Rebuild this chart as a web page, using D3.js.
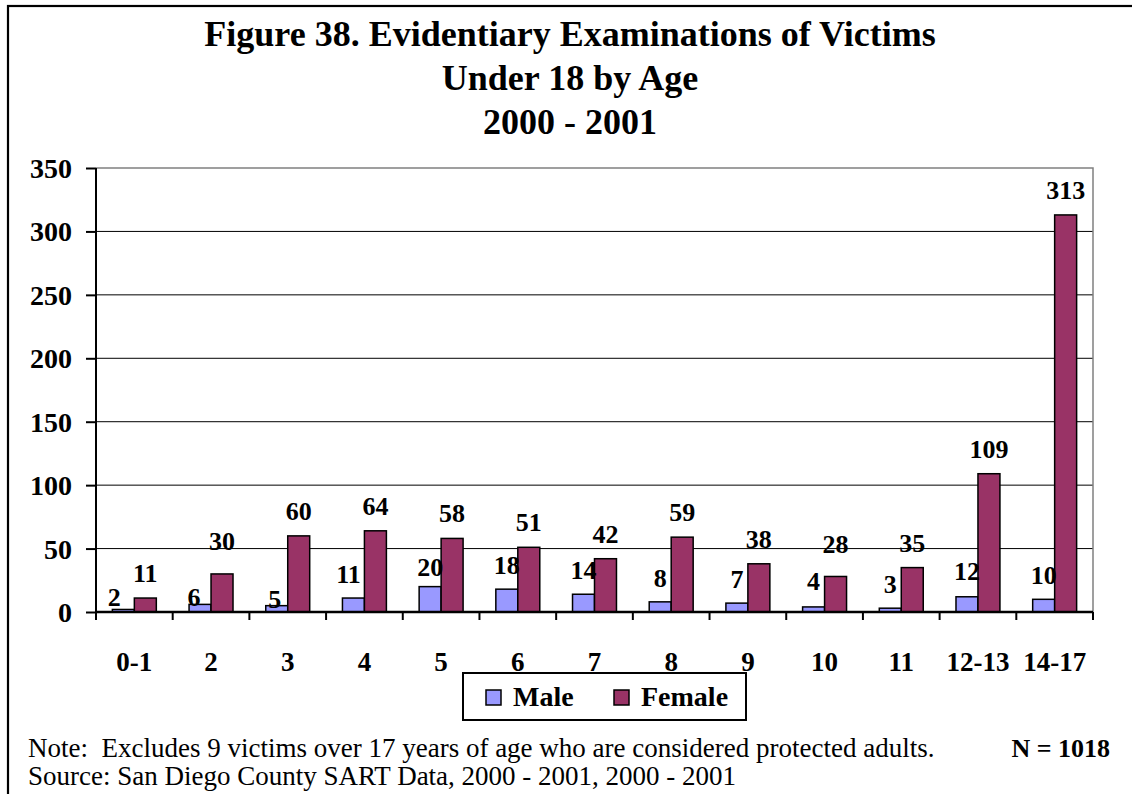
<!DOCTYPE html>
<html>
<head>
<meta charset="utf-8">
<script src="https://cdn.jsdelivr.net/npm/d3@7/dist/d3.min.js"></script>
<style>
  html, body { margin: 0; padding: 0; background: #fff; }
  svg { display: block; font-family: "Liberation Serif", "Times New Roman", serif; }
  .pre { white-space: pre; }
</style>
</head>
<body>
<svg id="chart" width="1132" height="794"></svg>
<script>
// ---- data ----
const categories = ["0-1", "2", "3", "4", "5", "6", "7", "8", "9", "10", "11", "12-13", "14-17"];
const seriesNames = ["Male", "Female"];
const maleValues = [2, 6, 5, 11, 20, 18, 14, 8, 7, 4, 3, 12, 10];
const femaleValues = [11, 30, 60, 64, 58, 51, 42, 59, 38, 28, 35, 109, 313];
const yTickValues = [0, 50, 100, 150, 200, 250, 300, 350];
const titleLines = ["Figure 38. Evidentiary Examinations of Victims", "Under 18 by Age", "2000 - 2001"];
const noteText = "Note:  Excludes 9 victims over 17 years of age who are considered protected adults.";
const nText = "N = 1018";
const sourceText = "Source: San Diego County SART Data, 2000 - 2001, 2000 - 2001";

// label nudges (pixels) to mimic the original label placement
const maleLabelDx = [-9, -6, -2, -5, 0, 0, 0, 0, 0, 0, 0, 0, 0];
const maleLabelDy = [12, 17, 17, 0, 4, 0, 0, 0, 0, -2, 0, -2, 0];
const femaleLabelDy = [0, -8, 0, 0, 0, 0, 0, 0, 0, -7, 0, 0, 0];

const colors = { Male: "#9999FF", Female: "#993366" };

// ---- layout ----
const svg = d3.select("#chart");
const plot = { left: 96, right: 1093, top: 168, bottom: 612 };

// outer frame
svg.append("rect").attr("x", 8).attr("y", 6).attr("width", 1140).attr("height", 820)
  .attr("fill", "none").attr("stroke", "#000").attr("stroke-width", 2.2);

// title
svg.append("g").selectAll("text").data(titleLines).join("text")
  .attr("x", 570).attr("y", (d, i) => 46 + i * 44)
  .attr("text-anchor", "middle").attr("font-weight", "bold").attr("font-size", 36)
  .text(d => d);

const x = d3.scaleBand().domain(categories).range([plot.left, plot.right]).paddingInner(0).paddingOuter(0);
const xs = d3.scaleBand().domain(seriesNames).range([0, x.bandwidth()]).paddingInner(0).paddingOuter(0.745);
const y = d3.scaleLinear().domain([0, 350]).range([plot.bottom, plot.top]);

// gridlines
svg.append("g").selectAll("line").data(yTickValues.filter(v => v > 0 && v < 350)).join("line")
  .attr("x1", plot.left).attr("x2", plot.right)
  .attr("y1", d => y(d)).attr("y2", d => y(d))
  .attr("stroke", "#000").attr("stroke-width", 1);

// plot area border (top & right, grey)
svg.append("path")
  .attr("d", `M${plot.left},${y(350)}H${plot.right}V${plot.bottom}`)
  .attr("fill", "none").attr("stroke", "#808080").attr("stroke-width", 1.5);

// bars
const data = categories.map((c, i) => ({ cat: c, i, Male: maleValues[i], Female: femaleValues[i] }));
const groups = svg.append("g").selectAll("g").data(data).join("g")
  .attr("transform", d => `translate(${x(d.cat)},0)`);
groups.selectAll("rect").data(d => seriesNames.map(s => ({ s, v: d[s] }))).join("rect")
  .attr("x", d => xs(d.s)).attr("width", xs.bandwidth())
  .attr("y", d => y(d.v)).attr("height", d => y(0) - y(d.v))
  .attr("fill", d => colors[d.s]).attr("stroke", "#000").attr("stroke-width", 1.5);

// data labels
const lab = svg.append("g").attr("font-weight", "bold").attr("font-size", 26).attr("text-anchor", "middle");
lab.selectAll("text.m").data(data).join("text").attr("class", "m")
  .attr("x", d => x(d.cat) + xs("Male") + xs.bandwidth() / 2 + maleLabelDx[d.i])
  .attr("y", d => y(d.Male) - 15 + maleLabelDy[d.i])
  .text(d => d.Male);
lab.selectAll("text.f").data(data).join("text").attr("class", "f")
  .attr("x", d => x(d.cat) + xs("Female") + xs.bandwidth() / 2)
  .attr("y", d => y(d.Female) - 16 + femaleLabelDy[d.i])
  .text(d => d.Female);

// y axis
const yAxis = svg.append("g").attr("transform", `translate(${plot.left},0)`)
  .call(d3.axisLeft(y).tickValues(yTickValues).tickSize(10).tickPadding(14).tickFormat(d3.format("d")));
yAxis.select(".domain").remove();
yAxis.selectAll(".tick line").attr("stroke", "#000").attr("stroke-width", 2);
yAxis.selectAll(".tick text").attr("font-size", 28).attr("font-weight", "bold")
  .attr("font-family", "Liberation Serif, Times New Roman, serif").attr("fill", "#000").attr("dy", "0.34em");
svg.append("line").attr("x1", plot.left).attr("x2", plot.left)
  .attr("y1", plot.top).attr("y2", plot.bottom + 8).attr("stroke", "#000").attr("stroke-width", 2);

// x axis
const xAxis = svg.append("g").attr("transform", `translate(0,${plot.bottom})`)
  .call(d3.axisBottom(x).tickSize(0).tickPadding(40));
xAxis.select(".domain").attr("stroke", "#000").attr("stroke-width", 2.5).attr("d", `M${plot.left},0H${plot.right}`);
xAxis.selectAll(".tick text").attr("font-size", 27).attr("font-weight", "bold")
  .attr("font-family", "Liberation Serif, Times New Roman, serif").attr("fill", "#000");
// boundary ticks
const bounds = categories.map(c => x(c)).concat([plot.right]);
svg.append("g").selectAll("line").data(bounds).join("line")
  .attr("x1", d => d).attr("x2", d => d)
  .attr("y1", plot.bottom).attr("y2", plot.bottom + 8)
  .attr("stroke", "#000").attr("stroke-width", 2);

// legend
const leg = svg.append("g");
leg.append("rect").attr("x", 463).attr("y", 673).attr("width", 283).attr("height", 47)
  .attr("fill", "#fff").attr("stroke", "#000").attr("stroke-width", 2);
const legX = [486, 614];
const legItems = leg.selectAll("g").data(seriesNames).join("g")
  .attr("transform", (d, i) => `translate(${legX[i]},0)`);
legItems.append("rect").attr("x", 0).attr("y", 690).attr("width", 15).attr("height", 15)
  .attr("fill", d => colors[d]).attr("stroke", "#000").attr("stroke-width", 1.5);
legItems.append("text").attr("x", 27).attr("y", 706)
  .attr("font-size", 28).attr("font-weight", "bold").text(d => d);

// footer
svg.append("text").attr("class", "pre").attr("x", 28).attr("y", 757).attr("font-size", 27).text(noteText);
svg.append("text").attr("x", 1110).attr("y", 757).attr("font-size", 26).attr("font-weight", "bold")
  .attr("text-anchor", "end").text(nText);
svg.append("text").attr("x", 28).attr("y", 785).attr("font-size", 27).text(sourceText);
</script>
</body>
</html>
